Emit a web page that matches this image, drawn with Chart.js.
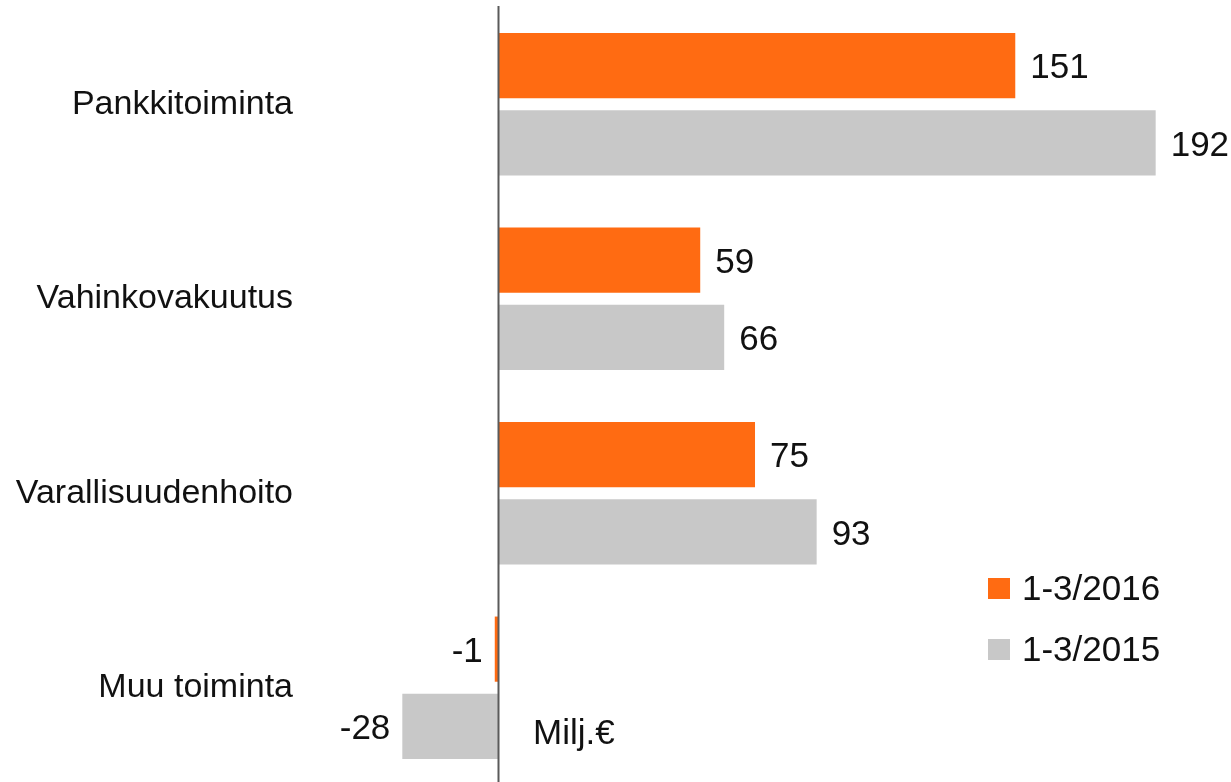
<!DOCTYPE html>
<html>
<head>
<meta charset="utf-8">
<script src="https://cdn.jsdelivr.net/npm/chart.js@4/dist/chart.umd.min.js"></script>
<style>
html,body{margin:0;padding:0;background:#fff;}
#wrap{width:1231px;height:782px;position:relative;}
</style>
</head>
<body>
<div id="wrap"><canvas id="c" width="1231" height="782"></canvas></div>
<script>
const categories = ["Pankkitoiminta", "Vahinkovakuutus", "Varallisuudenhoito", "Muu toiminta"];
const seriesNames = ["1-3/2016", "1-3/2015"];
const values2016 = [151, 59, 75, -1];
const values2015 = [192, 66, 93, -28];
const unitLabel = "Milj.€";

const FONT = "'Liberation Sans', Arial, sans-serif";
const ORANGE = "#FF6B12";
const GRAY = "#C8C8C8";

const extendBand = {
  id: "extendBand",
  afterLayout(chart) {
    const y = chart.scales.y;
    y.bottom = y.bottom + 3;
    y.height = y.bottom - y.top;
    y.configure();
  }
};

const overlay = {
  id: "overlay",
  afterDatasetsDraw(chart) {
    const ctx = chart.ctx;
    const xs = chart.scales.x;
    // zero axis line
    const x0 = Math.round(xs.getPixelForValue(0)) + 0.5;
    ctx.save();
    ctx.strokeStyle = "#5a5a5a";
    ctx.lineWidth = 2;
    ctx.beginPath();
    ctx.moveTo(x0, 6);
    ctx.lineTo(x0, chart.height);
    ctx.stroke();
    // data labels
    ctx.font = "35px " + FONT;
    ctx.fillStyle = "#111";
    ctx.textBaseline = "middle";
    chart.data.datasets.forEach((ds, di) => {
      const meta = chart.getDatasetMeta(di);
      meta.data.forEach((el, i) => {
        const v = ds.data[i];
        if (v >= 0) {
          ctx.textAlign = "left";
          ctx.fillText(String(v), el.x + 15, el.y + 3);
        } else {
          ctx.textAlign = "right";
          ctx.fillText(String(v), el.x - 12, el.y + 3);
        }
      });
    });
    // legend
    const lx = 988, ly = [578, 639];
    chart.data.datasets.forEach((ds, di) => {
      ctx.fillStyle = ds.backgroundColor;
      ctx.fillRect(lx, ly[di], 22, 21);
      ctx.fillStyle = "#111";
      ctx.textAlign = "left";
      ctx.fillText(ds.label, 1022, ly[di] + 12);
    });
    // unit label
    ctx.fillText(unitLabel, 533, 734);
    ctx.restore();
  }
};

new Chart(document.getElementById("c"), {
  type: "bar",
  data: {
    labels: categories,
    datasets: [
      { label: seriesNames[0], data: values2016, backgroundColor: ORANGE, categoryPercentage: 0.794, barPercentage: 0.844 },
      { label: seriesNames[1], data: values2015, backgroundColor: GRAY, categoryPercentage: 0.794, barPercentage: 0.844 }
    ]
  },
  options: {
    indexAxis: "y",
    responsive: false,
    animation: false,
    layout: { padding: { top: 7, bottom: 0, left: 0, right: 0 } },
    plugins: { legend: { display: false }, tooltip: { enabled: false } },
    scales: {
      x: { display: false, min: -57, max: 214 },
      y: {
        grid: { display: false, drawTicks: false },
        border: { display: false },
        ticks: { color: "#111", font: { family: FONT, size: 34, lineHeight: 1.0 }, padding: 10 },
        afterFit(scale) { scale.width = 303; scale.paddingTop = 0; scale.paddingBottom = 0; }
      }
    }
  },
  plugins: [extendBand, overlay]
});
</script>
</body>
</html>
